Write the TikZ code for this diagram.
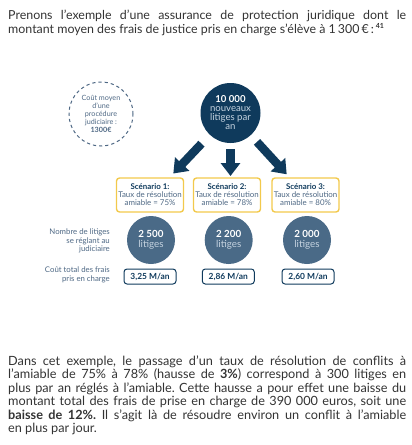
\documentclass[tikz,border=0pt]{standalone}
\usepackage{fontspec}
\setmainfont{Lato}
\usetikzlibrary{arrows.meta}
\definecolor{navy}{HTML}{0F3A5C}
\definecolor{steel}{HTML}{4A6A87}
\definecolor{gold}{HTML}{F2C94C}
\definecolor{txt}{HTML}{333333}
\definecolor{soft}{HTML}{4E6884}
\definecolor{lightb}{HTML}{C5D3E0}
\tikzset{
  para/.style={anchor=north west, inner sep=0pt, text width=398pt, align=justify, text=txt},
  bigarrow/.style={navy, line width=8.5pt, line cap=butt, -{Triangle[width=19pt,length=13pt]}},
  scen/.style={draw=gold, line width=1.4pt, rounded corners=3pt, minimum width=67pt, minimum height=34pt, inner sep=0pt, align=center, font=\fontsize{7.9}{7.9}\selectfont, text=soft},
  lit/.style={circle, fill=steel, minimum size=48pt, inner sep=0pt, align=center, text=white, font=\fontsize{9.8}{9.5}\selectfont},
  costbox/.style={draw=navy, line width=1pt, rounded corners=3pt, minimum width=52pt, minimum height=15pt, inner sep=0pt, text=navy, font=\bfseries\fontsize{8.4}{8}\selectfont},
  sidelab/.style={anchor=east, inner sep=0pt, align=right, text=soft, font=\fontsize{7.8}{8.4}\selectfont}
}
\begin{document}
\frenchspacing
\begin{tikzpicture}[x=1pt,y=-1pt]
\useasboundingbox (0,0) rectangle (412,445);
% top paragraph
\node[para, font=\fontsize{12.4}{14}\selectfont] (intro) at (8,9.5)
 {\frenchspacing\parfillskip=0pt Prenons l'exemple d'une assurance de protection juridique dont le\linebreak montant moyen des frais de justice pris en charge s'élève à 1\,300\,€\,:\,\textsuperscript{\bfseries\scriptsize 41}};
% dashed circle
\node[circle, draw=soft, dashed, dash pattern=on 3.2pt off 3pt, line width=1pt, minimum size=64pt, inner sep=0pt, align=center, text=soft, font=\fontsize{7.2}{7.8}\selectfont] (avg) at (101,114)
 {Coût moyen\\d'une\\procédure\\judiciaire :\\\textbf{1300€}};
% central circle
\node[circle, fill=navy, minimum size=60pt, inner sep=0pt, align=center, text=lightb, font=\fontsize{9.6}{9}\selectfont] (top) at (230.5,113)
 {\textcolor{white}{\bfseries 10 000}\\nouveaux\\litiges par\\an};
% arrow ends
\coordinate (a1) at (173.3,173.5);
\coordinate (a2) at (230.5,176);
\coordinate (a3) at (286.7,174.3);
\draw[bigarrow, shorten <=12pt] (top) -- (a1);
\draw[bigarrow, shorten <=6pt] (top) -- (a2);
\draw[bigarrow, shorten <=9pt] (top) -- (a3);
% scenarios
\node[scen] (s1) at (150,195) {\textcolor{navy}{\bfseries Scénario 1:}\\Taux de résolution\\amiable = 75\%};
\node[scen] (s2) at (227,195) {\textcolor{navy}{\bfseries Scénario 2:}\\Taux de résolution\\amiable = 78\%};
\node[scen] (s3) at (305.5,195) {\textcolor{navy}{\bfseries Scénario 3:}\\Taux de résolution\\amiable = 80\%};
% litiges circles
\node[lit] (c1) at (151,240) {\textbf{2 500}\\\textcolor{lightb}{litiges}};
\node[lit] (c2) at (228.7,240) {\textbf{2 200}\\\textcolor{lightb}{litiges}};
\node[lit] (c3) at (307,240) {\textbf{2 000}\\\textcolor{lightb}{litiges}};
% cost boxes
\node[costbox] (k1) at (150,276.5) {3,25 M/an};
\node[costbox] (k2) at (228.3,276.5) {2,86 M/an};
\node[costbox] (k3) at (308,276.5) {2,60 M/an};
% side labels
\node[sidelab] (lab1) at (110,241) {Nombre de litiges\\se réglant au\\judiciaire};
\node[sidelab] (lab2) at (110,275) {Coût total des frais\\pris en charge};
% bottom paragraph
\node[para, font=\fontsize{12.7}{13.5}\selectfont] (concl) at (8,355.5)
 {\frenchspacing Dans cet exemple, le passage d'un taux de résolution de conflits à\linebreak l'amiable de 75\% à 78\% (hausse de \textbf{3\%}) correspond à 300 litiges en\linebreak plus par an réglés à l'amiable. Cette hausse a pour effet une baisse du\linebreak montant total des frais de prise en charge de 390 000 euros, soit une\linebreak \textbf{baisse de 12\%.} Il s'agit là de résoudre environ un conflit à l'amiable\linebreak en plus par jour.};
\end{tikzpicture}
\end{document}
